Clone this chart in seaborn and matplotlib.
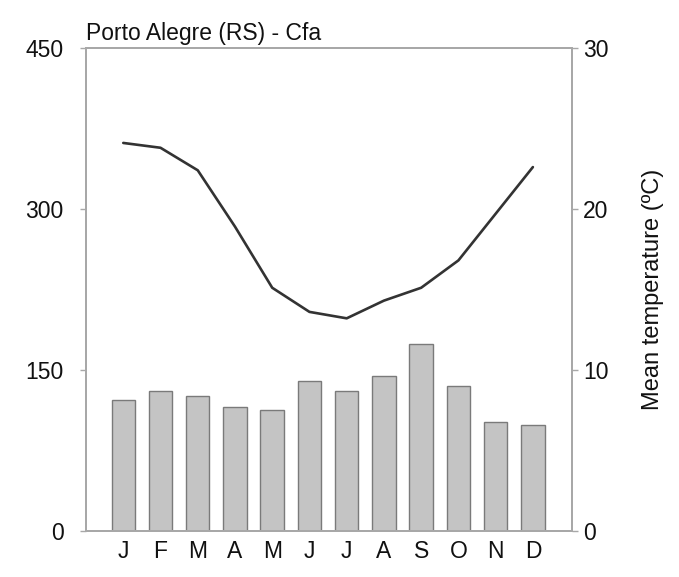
import numpy as np
import pandas as pd
import matplotlib
matplotlib.use("Agg")
import matplotlib.pyplot as plt
import seaborn as sns

months = ["J", "F", "M", "A", "M ", "J ", "J  ", "A ", "S", "O", "N", "D"]
month_labels = ["J", "F", "M", "A", "M", "J", "J", "A", "S", "O", "N", "D"]
precip_mm = [122, 130, 126, 115, 113, 140, 130, 144, 174, 135, 101, 99]
temp_c = [24.1, 23.8, 22.4, 18.9, 15.1, 13.6, 13.2, 14.3, 15.1, 16.8, 19.7, 22.6]

sns.set_theme(style="white")
plt.rcParams["font.family"] = ["Liberation Sans", "DejaVu Sans"]

df = pd.DataFrame({"month": months, "precip": precip_mm, "temp": temp_c})

fig = plt.figure(figsize=(6.79, 5.77), dpi=100)
ax = fig.add_axes([0.1267, 0.0802, 0.7157, 0.8366])
ax2 = ax.twinx()

spine_col = "#a8a8a8"
sns.barplot(data=df, x="month", y="precip", ax=ax, color="#c4c4c4",
            edgecolor="#7a7a7a", linewidth=1.0, width=0.63, saturation=1)
sns.lineplot(data=df, x="month", y="temp", ax=ax2, color="#333333",
             linewidth=1.9, sort=False)

ax.set_ylim(0, 450)
ax.set_yticks([0, 150, 300, 450])
ax2.set_ylim(0, 30)
ax2.set_yticks([0, 10, 20, 30])
ax.set_xlim(-1.0, 12.05)
ax.set_xticks(range(12))
ax.set_xticklabels(month_labels)

for a in (ax, ax2):
    for s in a.spines.values():
        s.set_color(spine_col)
        s.set_linewidth(1.3)
    a.set_xlabel("")
    a.set_ylabel("")
    a.tick_params(axis="both", colors=spine_col, labelcolor="#111111",
                  labelsize=16.5, length=4, width=1.0, direction="out")
ax.tick_params(axis="y", pad=12)
ax2.tick_params(axis="y", pad=4)
ax.tick_params(axis="x", pad=3)

ax2.set_ylabel("Mean temperature (\u00baC)", fontsize=17, color="#111111",
               labelpad=24)
ax.set_title("Porto Alegre (RS) - Cfa", loc="left", fontsize=16.5,
             color="#111111", pad=6)

fig.savefig("out.png", dpi=100)
